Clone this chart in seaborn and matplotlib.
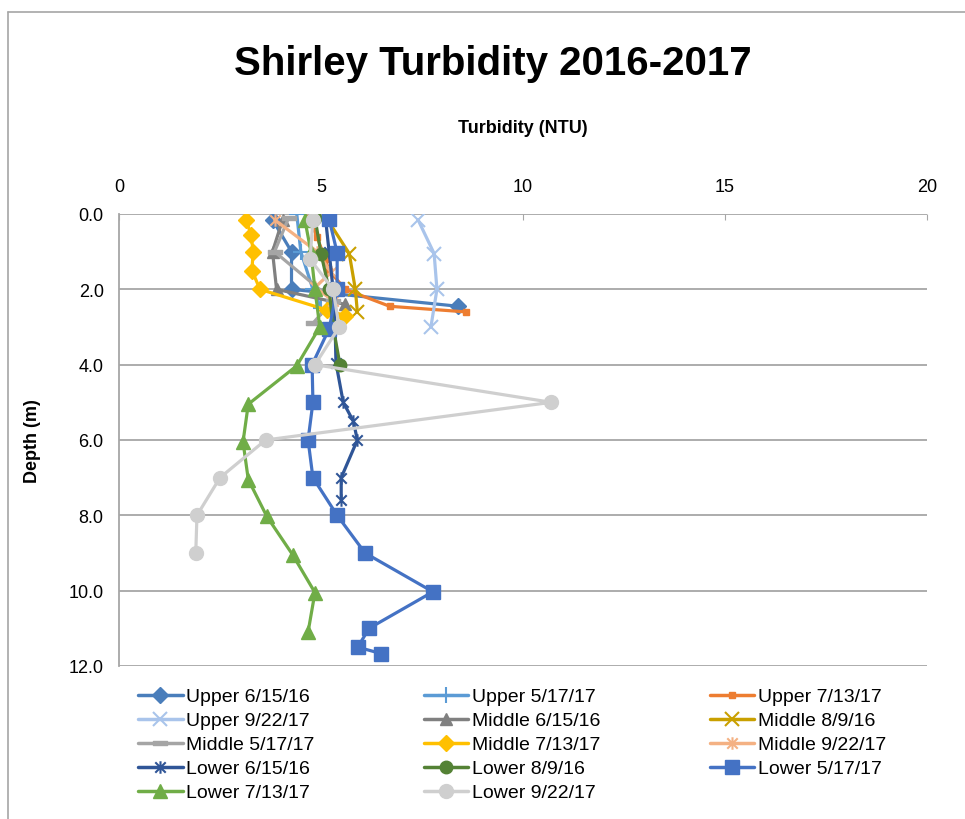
import matplotlib
matplotlib.use("Agg")
import matplotlib.pyplot as plt
import seaborn as sns
import pandas as pd
from matplotlib.lines import Line2D
from matplotlib.path import Path

# series names (legend order, row by row)
series_names = [
    "Upper 6/15/16", "Upper 5/17/17", "Upper 7/13/17",
    "Upper 9/22/17", "Middle 6/15/16", "Middle 8/9/16",
    "Middle 5/17/17", "Middle 7/13/17", "Middle 9/22/17",
    "Lower 6/15/16", "Lower 8/9/16", "Lower 5/17/17",
    "Lower 7/13/17", "Lower 9/22/17",
]

# turbidity (NTU) and depth (m)
upper_061516_ntu = [3.8, 4.27, 4.27, 8.4]
upper_061516_depth = [0.15, 1.0, 2.0, 2.45]
upper_051717_ntu = [4.4, 4.5, 4.8, 5.0]
upper_051717_depth = [0.0, 1.0, 2.0, 2.5]
upper_071317_ntu = [4.7, 4.9, 5.1, 5.2, 5.6, 6.7, 8.6]
upper_071317_depth = [0.1, 0.6, 1.2, 1.5, 2.0, 2.45, 2.6]
upper_092217_ntu = [7.4, 7.8, 7.87, 7.72]
upper_092217_depth = [0.15, 1.05, 2.0, 3.0]
middle_061516_ntu = [4.05, 3.8, 3.9, 5.6]
middle_061516_depth = [0.15, 1.0, 2.0, 2.4]
middle_080916_ntu = [5.1, 5.7, 5.85, 5.9]
middle_080916_depth = [0.05, 1.05, 2.0, 2.6]
middle_051717_ntu = [4.2, 3.85, 5.3, 4.8]
middle_051717_depth = [0.1, 1.0, 2.3, 2.9]
middle_071317_ntu = [3.14, 3.27, 3.32, 3.29, 3.49, 5.15, 5.6]
middle_071317_depth = [0.15, 0.55, 1.0, 1.5, 2.0, 2.55, 2.7]
middle_092217_ntu = [3.85, 4.9, 5.25, 4.85, 5.3]
middle_092217_depth = [0.15, 1.0, 1.55, 1.95, 2.3]
lower_061516_ntu = [5.1, 5.2, 5.3, 5.35, 5.37, 5.55, 5.8, 5.9, 5.5, 5.5]
lower_061516_depth = [0.0, 1.0, 2.0, 3.0, 3.95, 5.0, 5.5, 6.0, 7.0, 7.6]
lower_080916_ntu = [4.85, 5.0, 5.2, 5.3, 5.47]
lower_080916_depth = [0.1, 1.05, 2.0, 3.0, 4.0]
lower_051717_ntu = [5.2, 5.4, 5.4, 5.2, 4.78, 4.8, 4.68, 4.8, 5.4, 6.09,
                    7.77, 6.19, 5.91, 6.49]
lower_051717_depth = [0.13, 1.03, 2.0, 3.05, 4.0, 5.0, 6.0, 7.0, 8.0, 9.0,
                      10.03, 11.0, 11.5, 11.67]
lower_071317_ntu = [4.6, 4.75, 4.85, 4.97, 4.4, 3.2, 3.07, 3.2, 3.66, 4.3,
                    4.85, 4.68]
lower_071317_depth = [0.15, 1.0, 2.0, 3.0, 4.03, 5.05, 6.05, 7.05, 8.03, 9.05,
                      10.05, 11.1]
lower_092217_ntu = [4.8, 4.73, 5.3, 5.45, 4.85, 10.7, 3.63, 2.5, 1.93, 1.9]
lower_092217_depth = [0.15, 1.2, 2.0, 3.0, 4.0, 5.0, 6.0, 7.0, 8.0, 9.0]

ntu_values = [upper_061516_ntu, upper_051717_ntu, upper_071317_ntu,
              upper_092217_ntu, middle_061516_ntu, middle_080916_ntu,
              middle_051717_ntu, middle_071317_ntu, middle_092217_ntu,
              lower_061516_ntu, lower_080916_ntu, lower_051717_ntu,
              lower_071317_ntu, lower_092217_ntu]
depth_values = [upper_061516_depth, upper_051717_depth, upper_071317_depth,
                upper_092217_depth, middle_061516_depth, middle_080916_depth,
                middle_051717_depth, middle_071317_depth, middle_092217_depth,
                lower_061516_depth, lower_080916_depth, lower_051717_depth,
                lower_071317_depth, lower_092217_depth]

# Excel style markers: asterisk (x plus vertical bar) and flat dash
star = Path([(-1, -1), (1, 1), (-1, 1), (1, -1), (0, -1.2), (0, 1.2)],
            [Path.MOVETO, Path.LINETO, Path.MOVETO, Path.LINETO,
             Path.MOVETO, Path.LINETO])
dash = Path([(-1, -0.35), (1, -0.35), (1, 0.35), (-1, 0.35), (-1, -0.35)],
            [Path.MOVETO, Path.LINETO, Path.LINETO, Path.LINETO, Path.CLOSEPOLY])

# style per series: colour, marker, marker size, marker edge width
styles = {
    "Upper 6/15/16": ("#4A7EBB", "D", 8, 1),
    "Upper 5/17/17": ("#5B9BD5", "+", 11, 1.5),
    "Upper 7/13/17": ("#ED7D31", "s", 5, 1),
    "Upper 9/22/17": ("#A9C4EB", "x", 10, 1.5),
    "Middle 6/15/16": ("#808080", "^", 9, 1),
    "Middle 8/9/16": ("#C9A000", "x", 10, 1.5),
    "Middle 5/17/17": ("#A5A5A5", dash, 10, 1),
    "Middle 7/13/17": ("#FFC000", "D", 8, 1),
    "Middle 9/22/17": ("#F4B183", star, 9, 1.5),
    "Lower 6/15/16": ("#2F5597", star, 9, 1.5),
    "Lower 8/9/16": ("#548235", "o", 9, 1),
    "Lower 5/17/17": ("#4472C4", "s", 10, 1),
    "Lower 7/13/17": ("#70AD47", "^", 10, 1),
    "Lower 9/22/17": ("#CFCFCF", "o", 10, 1),
}

rows = []
for name, xs, ys in zip(series_names, ntu_values, depth_values):
    for i, (x, y) in enumerate(zip(xs, ys)):
        rows.append({"series": name, "order": i, "ntu": x, "depth": y})
df = pd.DataFrame(rows)

sns.set_style("white")
plt.rcParams["font.family"] = ["Liberation Sans", "DejaVu Sans"]
plt.rcParams["text.color"] = "black"
plt.rcParams["xtick.color"] = "black"
plt.rcParams["ytick.color"] = "black"
plt.rcParams["axes.labelcolor"] = "black"

fig = plt.figure(figsize=(9.65, 8.2), dpi=100)
ax = fig.add_axes([119 / 965, 1 - 667 / 820, (927 - 119) / 965, (667 - 215) / 820])

# horizontal gridlines behind the data
for d in range(0, 13, 2):
    ax.axhline(d, color="#A6A6A6", lw=1.3, zorder=0)

handles = {}
for name in series_names:
    color, marker, ms, mew = styles[name]
    sub = df[df["series"] == name]
    sns.lineplot(data=sub, x="ntu", y="depth", sort=False, estimator=None,
                 color=color, lw=2.3, marker=marker, markersize=ms,
                 markeredgecolor=color, markeredgewidth=mew,
                 ax=ax, legend=False, zorder=3)
    handles[name] = Line2D([], [], color=color, lw=2.5, marker=marker,
                           markersize=ms, markeredgecolor=color,
                           markeredgewidth=mew)

ax.set_xlim(0, 20)
ax.set_ylim(12, 0)
ax.set_xticks(range(0, 21, 5))
ax.set_yticks(range(0, 13, 2))
ax.set_yticklabels([f"{d:.1f}" for d in range(0, 13, 2)])
ax.xaxis.tick_top()
ax.xaxis.set_label_position("top")
ax.tick_params(axis="x", direction="in", length=4, color="#A6A6A6", labelsize=13, pad=14)
ax.tick_params(axis="y", direction="out", length=7, color="#A6A6A6", labelsize=13, pad=4)
ax.set_xlabel("Turbidity (NTU)", fontsize=13, fontweight="bold", labelpad=33)
ax.set_ylabel("Depth (m)", fontsize=13, fontweight="bold", labelpad=20)
for side in ("right", "bottom", "top"):
    ax.spines[side].set_visible(False)
ax.spines["left"].set_color("#A6A6A6")
ax.spines["left"].set_linewidth(1.3)

fig.text(0.511, 0.922, "Shirley Turbidity 2016-2017", ha="center", va="center",
         fontsize=29, fontweight="bold")

# matplotlib fills legend columns first, Excel fills rows first
ncol = 3
legend_order = [series_names[i] for c in range(ncol)
                for i in range(c, len(series_names), ncol)]
fig.legend(handles=[handles[n] for n in legend_order], labels=legend_order,
           ncol=ncol, loc="upper left",
           bbox_to_anchor=(130 / 965, 1 - 681 / 820), frameon=False,
           fontsize=14, handlelength=2.3, handletextpad=0.2,
           columnspacing=5.6, labelspacing=0.33, borderaxespad=0)

# chart area border (left and top visible in the reference)
fig.add_artist(Line2D([8 / 965, 8 / 965], [0, 1 - 13 / 820],
                      transform=fig.transFigure, color="#A6A6A6", lw=1.2))
fig.add_artist(Line2D([8 / 965, 1], [1 - 13 / 820, 1 - 13 / 820],
                      transform=fig.transFigure, color="#A6A6A6", lw=1.2))

fig.savefig("out.png", dpi=100)
